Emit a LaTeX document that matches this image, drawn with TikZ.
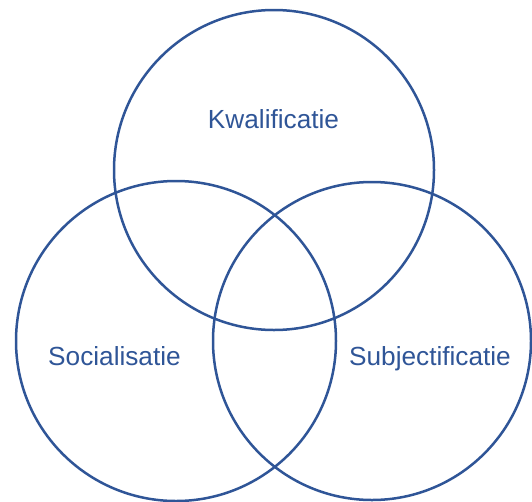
\documentclass[tikz,border=0pt]{standalone}
\usepackage{fontspec}
\setmainfont{Liberation Sans}
\definecolor{ringblue}{RGB}{47,85,151}
\begin{document}
\begin{tikzpicture}[x=1pt,y=-1pt,
  ring/.style={draw=ringblue,line width=2.5pt},
  label/.style={text=ringblue,font=\fontsize{26.2}{31}\selectfont,anchor=base,inner sep=0pt}]
\useasboundingbox (0,0) rectangle (532,501);
% three overlapping circles
\draw[ring] (274,170) circle[radius=160];
\draw[ring] (176,341) circle[radius=160];
\draw[ring] (372,341) circle[radius=159];
% labels
\node[label] (kwal) at (273.5,128.5) {Kwalificatie};
\node[label] (soc) at (114.5,365.5) {Socialisatie};
\node[label] (subj) at (430,365.5) {Subjectificatie};
\end{tikzpicture}
\end{document}
